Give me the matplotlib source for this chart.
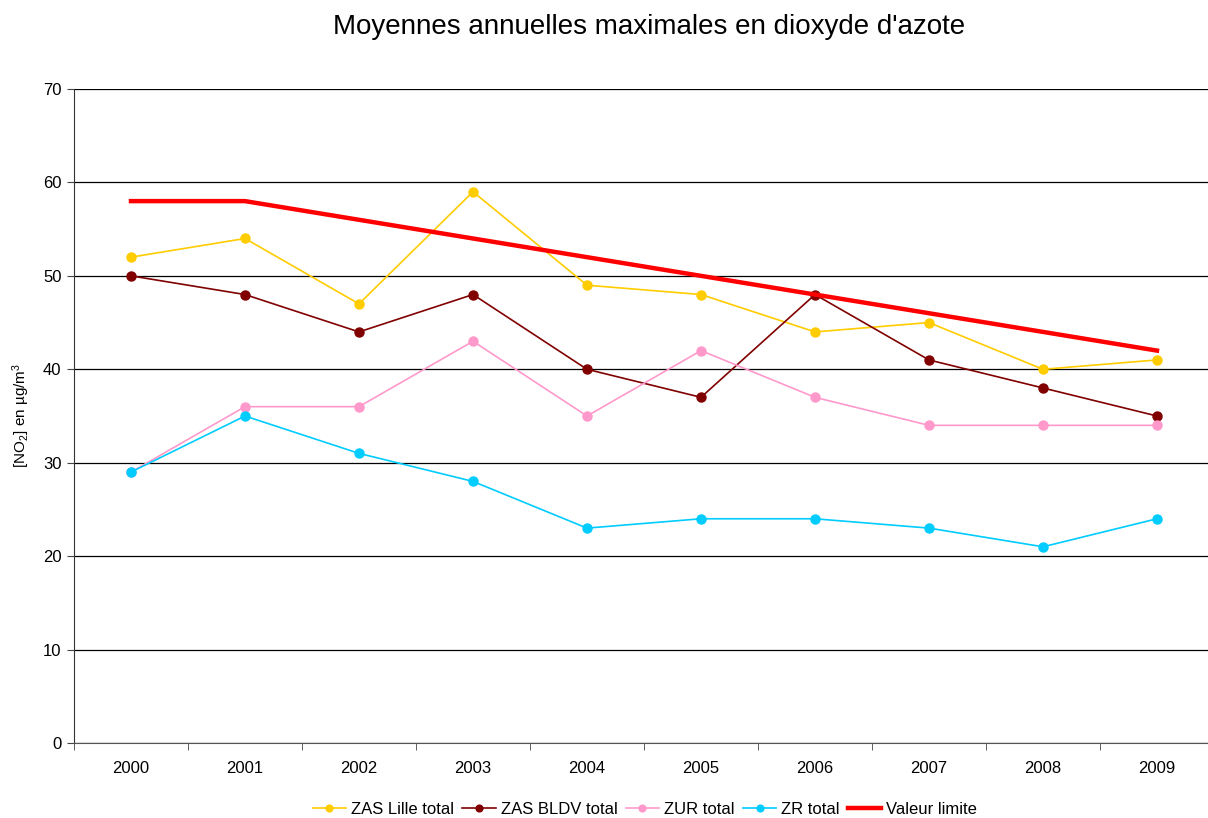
import numpy as np
import matplotlib
matplotlib.use("Agg")
import matplotlib.pyplot as plt

plt.rcParams['font.family'] = ['Liberation Sans', 'DejaVu Sans']
plt.rcParams['mathtext.fontset'] = 'custom'
plt.rcParams['mathtext.rm'] = 'Liberation Sans'
plt.rcParams['mathtext.it'] = 'Liberation Sans'

# donnees NO2 (moyennes annuelles max)
annees = ['2000', '2001', '2002', '2003', '2004', '2005', '2006', '2007', '2008', '2009']
zas_lille = [52, 54, 47, 59, 49, 48, 44, 45, 40, 41]
zas_bldv = [50, 48, 44, 48, 40, 37, 48, 41, 38, 35]
zur = [29, 36, 36, 43, 35, 42, 37, 34, 34, 34]
zr = [29, 35, 31, 28, 23, 24, 24, 23, 21, 24]
valeur_limite = [58, 58, 56, 54, 52, 50, 48, 46, 44, 42]

fig = plt.figure(figsize=(12.08, 8.18), dpi=100)
ax = fig.add_axes([74/1208, 1 - 743/818, 1140/1208, (743 - 89)/818])

x = np.arange(len(annees))
series = [
    (zas_lille, '#FFCC00', 'ZAS Lille total'),
    (zas_bldv, '#800000', 'ZAS BLDV total'),
    (zur, '#FF99CC', 'ZUR total'),
    (zr, '#00CCFF', 'ZR total'),
]
for vals, col, lab in series:
    ax.plot(x, vals, color=col, lw=1.2, marker='o', ms=6.5, label=lab, zorder=3)
ax.plot(x, valeur_limite, color='#FF0000', lw=3.2, label='Valeur limite', zorder=4)

ax.set_xlim(-0.5, len(annees) - 0.5)
ax.set_ylim(0, 70)
ax.set_yticks(range(0, 71, 10))
ax.set_xticks(x)
ax.set_xticklabels(annees, fontsize=12)
ax.set_xticks(np.arange(-0.5, len(annees), 1), minor=True)
ax.tick_params(axis='x', which='major', length=0, pad=13)
ax.tick_params(axis='x', which='minor', length=5, direction='out', color='#444444')
ax.tick_params(axis='y', labelsize=12, length=5, direction='out', color='#444444', pad=4)
ax.grid(axis='y', color='black', lw=0.9)
ax.set_axisbelow(True)
for s in ['top', 'right']:
    ax.spines[s].set_visible(False)
ax.spines['left'].set_color('#333333')
ax.spines['bottom'].set_color('#555555')

ax.set_ylabel(r'[NO$_2$] en µg/m$^3$', fontsize=11, labelpad=8)

fig.text(649/1208, 1 - 27/818, "Moyennes annuelles maximales en dioxyde d'azote",
         fontsize=20, ha='center', va='center')

fig.legend(loc='center', bbox_to_anchor=(645/1208, 1 - 809/818), ncol=5, frameon=False,
           fontsize=12, handlelength=2.0, columnspacing=0.5, handletextpad=0.3,
           markerscale=0.75)

fig.savefig('out.png', dpi=100)
